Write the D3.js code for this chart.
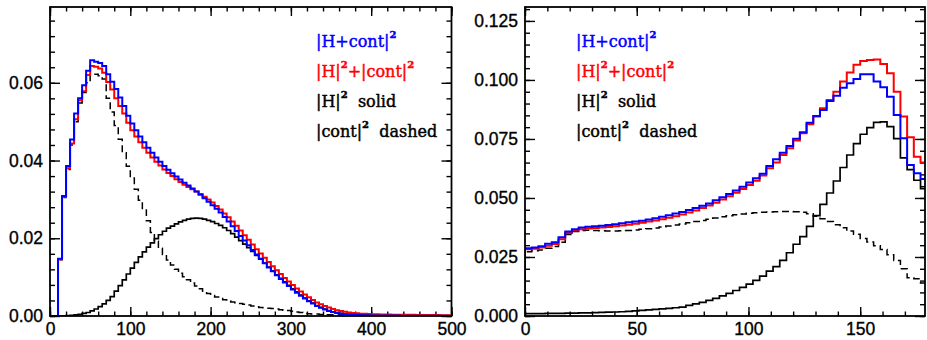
<!DOCTYPE html>
<html><head><meta charset="utf-8">
<script src="https://cdn.jsdelivr.net/npm/d3@7/dist/d3.min.js"></script>
<style>body{margin:0;background:#fff}svg{display:block}</style>
</head><body><svg id="c" width="927" height="340"></svg>
<script>
// ---------- LEFT PANEL DATA (bins of 5, 0..500) ----------
const leftBinStart = 0, leftBinWidth = 5;
const leftXDomain = [0, 500];
const leftYDomain = [0, 0.0795];
const leftXTicks = [0, 100, 200, 300, 400, 500];
const leftXTickLabels = ["0", "100", "200", "300", "400", "500"];
const leftYTicks = [0, 0.02, 0.04, 0.06];
const leftYTickLabels = ["0.00", "0.02", "0.04", "0.06"];
const leftXMinorStep = 20, leftYMinorStep = 0.004;

const leftBlue = [0,0,0.0147,0.0309,0.0386,0.0454,0.0521,0.0560,0.0594,0.0631,
0.0658,0.0654,0.0651,0.0643,0.0622,0.0603,0.0584,0.0562,0.0540,0.0515,
0.0495,0.0478,0.0462,0.0447,0.0433,0.0420,0.0408,0.0397,0.0386,0.0376,
0.0367,0.0359,0.0351,0.0343,0.0336,0.0328,0.0320,0.0312,0.0303,0.0294,
0.0285,0.0276,0.0266,0.0255,0.0243,0.0231,0.0219,0.0206,0.0194,0.0182,
0.0170,0.0158,0.0147,0.0136,0.0125,0.0115,0.0105,0.0095,0.0086,0.0077,
0.0068,0.0060,0.0052,0.0045,0.0038,0.0032,0.0026,0.0021,0.0017,0.0013,
0.0010,0.0008,0.0006,0.0005,0.0004,0.0003,0.0003,0.0002,0.0002,0.0002,
0.00015,0.00015,0.00012,0.00012,0.0001,0.0001,0.0001,0.00008,0.00008,0.00008,
0.00006,0.00006,0.00006,0.00005,0.00005,0.00005,0.00004,0.00004,0.00004,0.00003];

const leftRed = [0,0,0.0146,0.0307,0.0380,0.0444,0.0506,0.0555,0.0578,0.0620,
0.0643,0.0641,0.0637,0.0626,0.0602,0.0583,0.0560,0.0540,0.0521,0.0497,
0.0478,0.0462,0.0447,0.0433,0.0420,0.0408,0.0397,0.0387,0.0377,0.0368,
0.0360,0.0352,0.0345,0.0338,0.0332,0.0326,0.0320,0.0314,0.0307,0.0300,
0.0292,0.0283,0.0274,0.0264,0.0254,0.0243,0.0232,0.0220,0.0208,0.0196,
0.0184,0.0172,0.0161,0.0150,0.0139,0.0128,0.0118,0.0108,0.0098,0.0089,
0.0080,0.0071,0.0063,0.0055,0.0048,0.0041,0.0035,0.0030,0.0026,0.0022,
0.0018,0.0015,0.0013,0.0011,0.0009,0.0008,0.0007,0.0006,0.0006,0.0005,
0.00045,0.00045,0.0004,0.0004,0.0004,0.00035,0.00035,0.00035,0.0003,0.0003,
0.0003,0.00028,0.00027,0.00026,0.00025,0.00024,0.00023,0.00022,0.0002,0.0002];

const leftH = [0,0,0.00003,0.00006,0.0001,0.00018,0.0003,0.00045,0.00065,0.0009,
0.0013,0.0018,0.0024,0.0031,0.0040,0.0050,0.0064,0.0078,0.0093,0.0108,
0.0123,0.0138,0.0152,0.0165,0.0177,0.0188,0.0199,0.0209,0.0218,0.0226,
0.0231,0.0237,0.0242,0.0246,0.0249,0.0251,0.0252,0.0251,0.0249,0.0246,
0.0243,0.0238,0.0233,0.0227,0.0220,0.0212,0.0203,0.0194,0.0185,0.0176,
0.0166,0.0156,0.0146,0.0136,0.0126,0.0116,0.0106,0.0097,0.0088,0.0079,
0.0070,0.0062,0.0054,0.0046,0.0039,0.0033,0.0027,0.0022,0.0018,0.0014,
0.0011,0.0009,0.0007,0.0005,0.0004,0.0003,0.00025,0.0002,0.00015,0.00012,
0.0001,0.0001,0.00008,0.00008,0.00007,0.00006,0.00006,0.00005,0.00005,0.00004,
0.00004,0.00004,0.00003,0.00003,0.00003,0.00002,0.00002,0.00002,0.00002,0.00001];

const leftCont = [0,0,0.0145,0.0305,0.0377,0.0440,0.0500,0.0548,0.0575,0.0600,
0.0620,0.0622,0.0618,0.0610,0.0560,0.0525,0.0490,0.0455,0.0420,0.0385,
0.0355,0.0326,0.0298,0.0273,0.0245,0.0215,0.0192,0.0174,0.0158,0.0144,
0.0131,0.0120,0.0110,0.0101,0.0093,0.0085,0.0077,0.0070,0.0064,0.0058,
0.0053,0.0049,0.0045,0.0042,0.0039,0.0036,0.0034,0.0032,0.0030,0.0028,
0.0026,0.0024,0.0022,0.0021,0.0020,0.0019,0.0018,0.0016,0.0015,0.0014,
0.0012,0.0010,0.0009,0.0008,0.0006,0.0005,0.0005,0.0004,0.0004,0.0003,
0.0003,0.0003,0.00025,0.00025,0.00025,0.0002,0.0002,0.0002,0.0002,0.0002,
0.0002,0.0002,0.00018,0.00018,0.00016,0.00016,0.00015,0.00015,0.00014,0.00014,
0.00013,0.00013,0.00012,0.00012,0.00011,0.00011,0.0001,0.0001,0.0001,0.0001];

// ---------- RIGHT PANEL DATA (bins of 3, 0..180) ----------
const rightBinStart = 0, rightBinWidth = 3;
const rightXDomain = [0, 179];
const rightYDomain = [0, 0.1309];
const rightXTicks = [0, 50, 100, 150];
const rightXTickLabels = ["0", "50", "100", "150"];
const rightYTicks = [0, 0.025, 0.05, 0.075, 0.1, 0.125];
const rightYTickLabels = ["0.000", "0.025", "0.050", "0.075", "0.100", "0.125"];
const rightXMinorStep = 10, rightYMinorStep = 0.005;

const rightBlue = [0.0287,0.0290,0.0296,0.0306,0.0312,0.0334,0.0358,0.0368,0.0375,0.0378,
0.0380,0.0382,0.0385,0.0389,0.0393,0.0397,0.0400,0.0404,0.0409,0.0414,
0.0420,0.0427,0.0434,0.0441,0.0449,0.0458,0.0467,0.0477,0.0490,0.0503,
0.0517,0.0532,0.0548,0.0566,0.0584,0.0603,0.0635,0.0664,0.0692,0.0720,
0.0751,0.0778,0.0819,0.0847,0.0873,0.0911,0.0933,0.0967,0.0986,0.1004,
0.1024,0.1024,0.0993,0.0969,0.0929,0.0852,0.0753,0.0640,0.0605,0.0580];

const rightRed = [0.0283,0.0285,0.0290,0.0298,0.0305,0.0325,0.0352,0.0362,0.0368,0.0371,
0.0373,0.0375,0.0377,0.0380,0.0383,0.0387,0.0391,0.0395,0.0400,0.0405,
0.0410,0.0416,0.0423,0.0430,0.0438,0.0447,0.0457,0.0468,0.0480,0.0493,
0.0507,0.0522,0.0538,0.0555,0.0573,0.0595,0.0626,0.0650,0.0682,0.0711,
0.0743,0.0774,0.0812,0.0845,0.0880,0.0915,0.0950,0.0993,0.1032,0.1064,
0.1080,0.1085,0.1087,0.1068,0.1028,0.0950,0.0845,0.0757,0.0675,0.0650];

const rightH = [0.0010,0.0010,0.0010,0.0011,0.0011,0.0011,0.0012,0.0012,0.0013,0.0013,
0.0014,0.0015,0.0016,0.0017,0.0018,0.0020,0.0022,0.0024,0.0026,0.0028,
0.0030,0.0032,0.0035,0.0038,0.0045,0.0051,0.0058,0.0066,0.0075,0.0085,
0.0096,0.0108,0.0121,0.0135,0.0151,0.0169,0.0190,0.0209,0.0236,0.0268,
0.0304,0.0336,0.0380,0.0425,0.0473,0.0521,0.0572,0.0629,0.0682,0.0730,
0.0770,0.0798,0.0820,0.0822,0.0802,0.0751,0.0670,0.0620,0.0575,0.0540];

const rightCont = [0.0272,0.0276,0.0280,0.0287,0.0294,0.0312,0.0345,0.0358,0.0362,0.0363,
0.0362,0.0361,0.0360,0.0360,0.0361,0.0362,0.0364,0.0367,0.0370,0.0373,
0.0377,0.0381,0.0385,0.0390,0.0395,0.0400,0.0405,0.0410,0.0415,0.0420,
0.0425,0.0429,0.0432,0.0435,0.0437,0.0439,0.0441,0.0442,0.0443,0.0443,
0.0442,0.0439,0.0433,0.0423,0.0412,0.0400,0.0387,0.0374,0.0360,0.0346,
0.0328,0.0313,0.0298,0.0282,0.0260,0.0235,0.0200,0.0162,0.0158,0.0140];

// ---------- LEGEND ----------
const legendRows = [
  {color: "#0000ff", parts: [["|H+cont|", false], ["2", true]]},
  {color: "#ff0000", parts: [["|H|", false], ["2", true], ["+|cont|", false], ["2", true]]},
  {color: "#000000", parts: [["|H|", false], ["2", true], ["\u00a0\u00a0solid", false]]},
  {color: "#000000", parts: [["|cont|", false], ["2", true], ["\u00a0\u00a0dashed", false]]}
];

const svg = d3.select("#c");

function drawPanel(p) {
  const g = svg.append("g");
  const x = d3.scaleLinear().domain(p.xDomain).range([p.left, p.right]);
  const y = d3.scaleLinear().domain(p.yDomain).range([p.bottom, p.top]);
  const clipId = "clip" + p.id;
  svg.append("clipPath").attr("id", clipId).append("rect")
    .attr("x", p.left).attr("y", p.top).attr("width", p.right - p.left).attr("height", p.bottom - p.top);

  const xMinor = d3.range(p.xDomain[0], p.xDomain[1] + 1e-9, p.xMinorStep);
  const yMinor = d3.range(0, p.yDomain[1], p.yMinorStep);

  const tickStyle = sel => { sel.select(".domain").remove(); sel.selectAll("line").attr("stroke", "#000").attr("stroke-width", 1.4); };
  const labStyle = sel => sel.selectAll("text").attr("font-family", "'Liberation Sans', Arial, sans-serif")
    .attr("font-size", 17.5).attr("fill", "#000").attr("stroke", "#000").attr("stroke-width", 0.35);

  // minor ticks
  g.append("g").attr("transform", `translate(0,${p.bottom})`).call(d3.axisBottom(x).tickValues(xMinor).tickSize(-4.5).tickFormat("")).call(tickStyle);
  g.append("g").attr("transform", `translate(0,${p.top})`).call(d3.axisTop(x).tickValues(xMinor).tickSize(-4.5).tickFormat("")).call(tickStyle);
  g.append("g").attr("transform", `translate(${p.left},0)`).call(d3.axisLeft(y).tickValues(yMinor).tickSize(-5).tickFormat("")).call(tickStyle);
  g.append("g").attr("transform", `translate(${p.right},0)`).call(d3.axisRight(y).tickValues(yMinor).tickSize(-5).tickFormat("")).call(tickStyle);
  // major ticks
  g.append("g").attr("transform", `translate(0,${p.bottom})`)
    .call(d3.axisBottom(x).tickValues(p.xTicks).tickSize(-9).tickPadding(7).tickFormat((d, i) => p.xTickLabels[i]))
    .call(tickStyle).call(labStyle);
  g.append("g").attr("transform", `translate(0,${p.top})`).call(d3.axisTop(x).tickValues(p.xTicks).tickSize(-9).tickFormat("")).call(tickStyle);
  g.append("g").attr("transform", `translate(${p.left},0)`)
    .call(d3.axisLeft(y).tickValues(p.yTicks).tickSize(-10).tickPadding(7).tickFormat((d, i) => p.yTickLabels[i]))
    .call(tickStyle).call(labStyle);
  g.append("g").attr("transform", `translate(${p.right},0)`).call(d3.axisRight(y).tickValues(p.yTicks).tickSize(-10).tickFormat("")).call(tickStyle);

  // histograms
  const line = d3.line().x(d => x(d[0])).y(d => y(d[1])).curve(d3.curveStepAfter);
  const pts = vals => {
    const a = [[p.binStart, 0]];
    vals.forEach((v, i) => a.push([p.binStart + i * p.binWidth, v]));
    a.push([p.binStart + vals.length * p.binWidth, vals[vals.length - 1]]);
    return a;
  };
  const lg = g.append("g").attr("clip-path", `url(#${clipId})`).attr("fill", "none").attr("stroke-linejoin", "miter");
  lg.append("path").attr("d", line(pts(p.H))).attr("stroke", "#000").attr("stroke-width", 1.7);
  lg.append("path").attr("d", line(pts(p.cont))).attr("stroke", "#000").attr("stroke-width", 1.5).attr("stroke-dasharray", "7,4");
  lg.append("path").attr("d", line(pts(p.red))).attr("stroke", "#ff0000").attr("stroke-width", 2);
  lg.append("path").attr("d", line(pts(p.blue))).attr("stroke", "#0000ff").attr("stroke-width", 2);

  // frame
  g.append("rect").attr("x", p.left).attr("y", p.top).attr("width", p.right - p.left).attr("height", p.bottom - p.top)
    .attr("fill", "none").attr("stroke", "#000").attr("stroke-width", 1.8);

  // legend
  legendRows.forEach((r, i) => {
    const t = g.append("text").attr("x", p.legendX).attr("y", p.legendY + i * 30)
      .attr("font-family", "'DejaVu Serif', serif").attr("font-size", 16)
      .attr("fill", r.color).attr("stroke", r.color).attr("stroke-width", 0.45);
    let n = 0;
    r.parts.forEach(([s, sup]) => {
      const ts = t.append("tspan").text(s);
      if (sup) ts.attr("font-size", 10).attr("font-weight", "bold").attr("dy", -9);
      else if (n > 0) ts.attr("dy", 9);
      n++;
    });
  });
}

drawPanel({id: "L", left: 50, right: 451.5, top: 7, bottom: 316,
  xDomain: leftXDomain, yDomain: leftYDomain, xTicks: leftXTicks, xTickLabels: leftXTickLabels,
  yTicks: leftYTicks, yTickLabels: leftYTickLabels, xMinorStep: leftXMinorStep, yMinorStep: leftYMinorStep,
  binStart: leftBinStart, binWidth: leftBinWidth, blue: leftBlue, red: leftRed, H: leftH, cont: leftCont,
  legendX: 316, legendY: 47});
drawPanel({id: "R", left: 525, right: 925, top: 7, bottom: 316,
  xDomain: rightXDomain, yDomain: rightYDomain, xTicks: rightXTicks, xTickLabels: rightXTickLabels,
  yTicks: rightYTicks, yTickLabels: rightYTickLabels, xMinorStep: rightXMinorStep, yMinorStep: rightYMinorStep,
  binStart: rightBinStart, binWidth: rightBinWidth, blue: rightBlue, red: rightRed, H: rightH, cont: rightCont,
  legendX: 576, legendY: 47});
</script>
</body></html>
